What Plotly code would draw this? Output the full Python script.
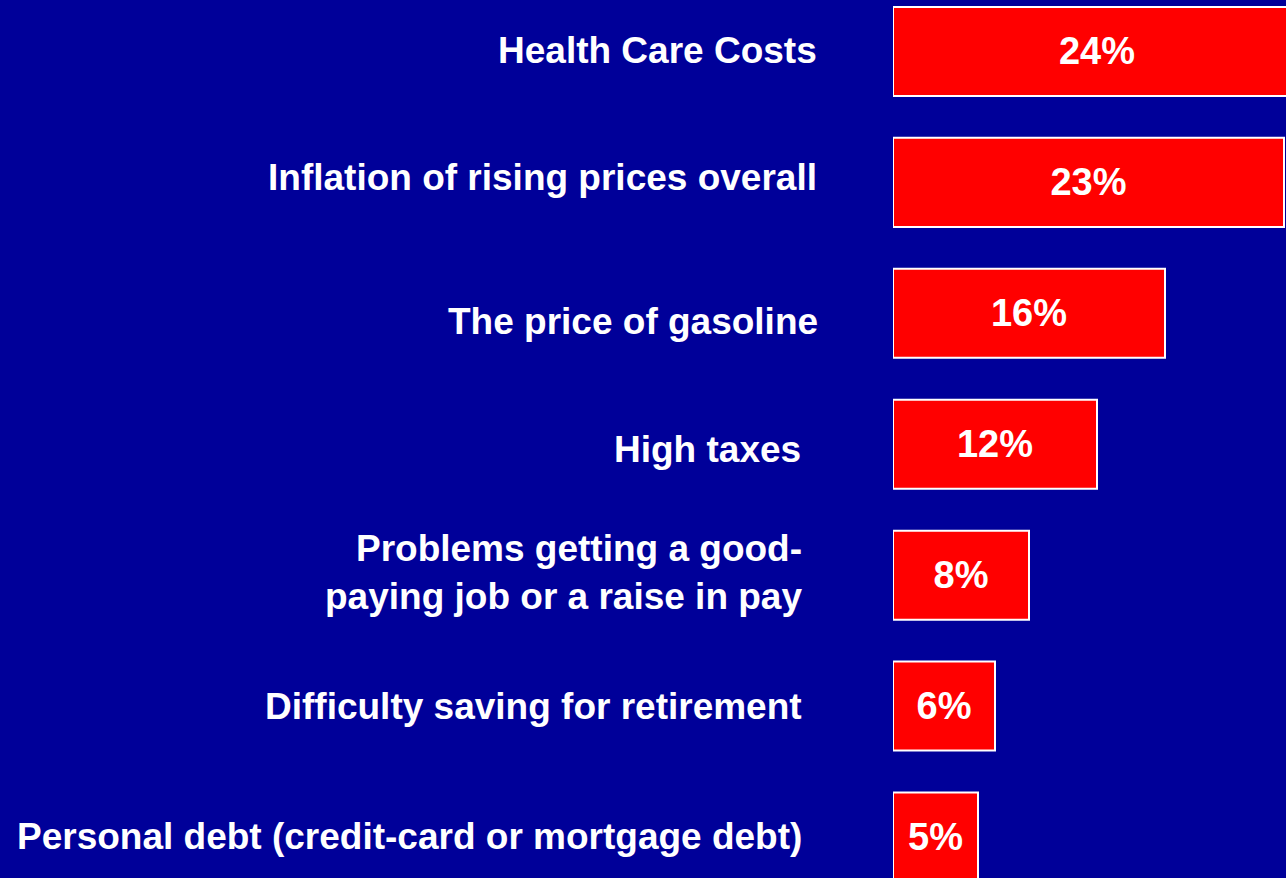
import plotly.graph_objects as go

categories = [
    "Health Care Costs",
    "Inflation of rising prices overall",
    "The price of gasoline",
    "High taxes",
    "Problems getting a good-<br>paying job or a raise in pay",
    "Difficulty saving for retirement",
    "Personal debt (credit-card or mortgage debt)",
]
values = [24, 23, 16, 12, 8, 6, 5]

# label styling offsets (pixels)
label_xshift = [-74, -74, -73, -90, -89, -89, -89]
label_yshift = [1, 5, -8, -5, 3, 0, 1]

BG = "#000099"
FONT = "Liberation Sans, Arial, sans-serif"

idx = list(range(len(categories)))

fig = go.Figure()
fig.add_trace(go.Bar(
    x=values,
    y=idx,
    orientation="h",
    marker=dict(color="#ff0000", line=dict(color="white", width=2)),
    text=[f"{v}%" for v in values],
    textposition="inside",
    insidetextanchor="middle",
    textangle=0,
    constraintext="none",
    textfont=dict(family=FONT, size=38, color="white", weight="bold"),
    hoverinfo="skip",
    cliponaxis=True,
))

for i, (c, xs, ys) in enumerate(zip(categories, label_xshift, label_yshift)):
    fig.add_annotation(
        x=0, y=i, xref="x", yref="y",
        text=c, showarrow=False,
        xanchor="right", yanchor="middle", align="right",
        xshift=xs, yshift=ys,
        font=dict(family=FONT, size=37, color="white", weight="bold"),
    )

fig.update_layout(
    width=1286, height=878,
    paper_bgcolor=BG, plot_bgcolor=BG,
    margin=dict(l=893, r=0, t=0, b=0),
    bargap=0.32,
    showlegend=False,
    xaxis=dict(range=[0, 393 / 17], visible=False, fixedrange=True),
    yaxis=dict(range=[6.313, -0.393], visible=False, fixedrange=True),
)

fig.write_html(
    "out.html",
    config={"displayModeBar": False},
    post_script="document.body.style.margin='0';document.body.style.overflow='hidden';document.body.style.background='#000099';",
)
